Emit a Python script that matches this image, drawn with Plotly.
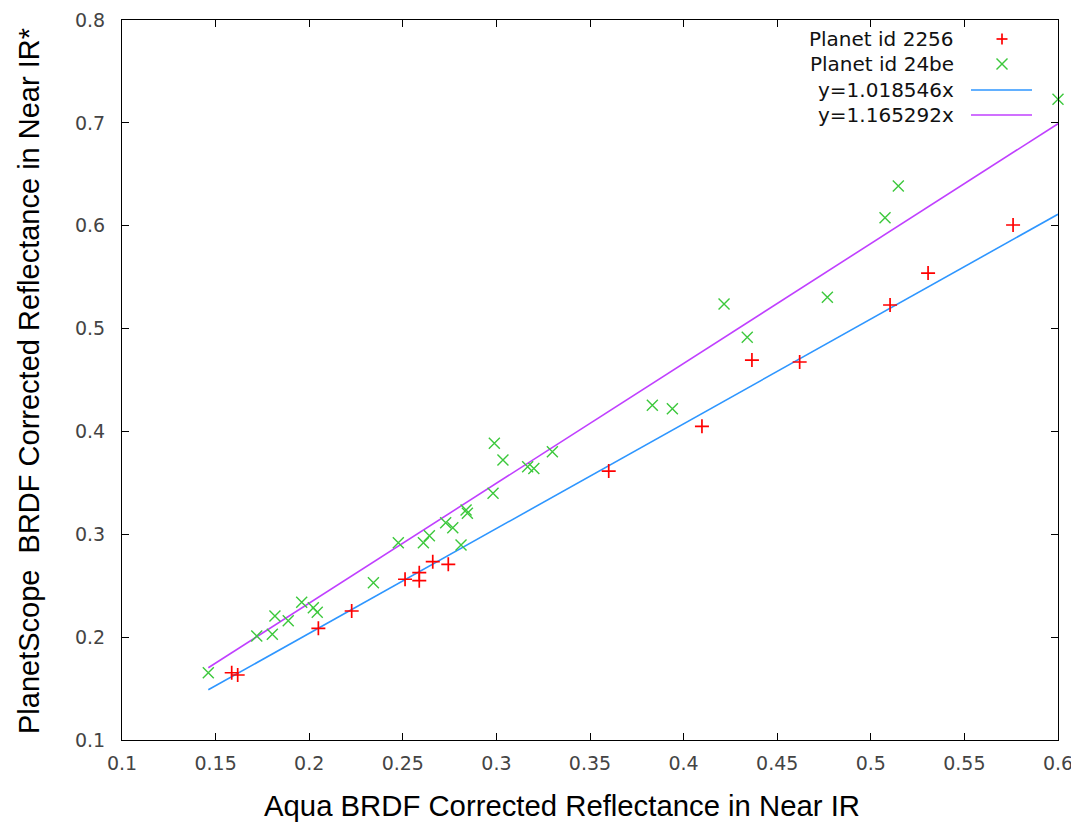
import plotly.graph_objects as go

# ---- data ----
red_name = "Planet id 2256"
red_x = [0.1586, 0.1618, 0.2049, 0.2227, 0.2512, 0.2588, 0.2588, 0.2660, 0.2743,
         0.3600, 0.4098, 0.4365, 0.4620, 0.5103, 0.5306, 0.5760]
red_y = [0.1654, 0.1632, 0.2086, 0.2254, 0.2563, 0.2627, 0.2549, 0.2734, 0.2708,
         0.3615, 0.4050, 0.4694, 0.4675, 0.5229, 0.5540, 0.6007]

green_name = "Planet id 24be"
green_x = [0.1461, 0.1720, 0.1803, 0.1817, 0.1888, 0.1960, 0.2022, 0.2043, 0.2343,
           0.2476, 0.2610, 0.2642, 0.2729, 0.2767, 0.2811, 0.2838, 0.2845, 0.2982,
           0.2989, 0.3035, 0.3167, 0.3200, 0.3299, 0.3833, 0.3940, 0.4216, 0.4340,
           0.4768, 0.5076, 0.5147, 0.6000]
green_y = [0.1654, 0.2011, 0.2028, 0.2205, 0.2160, 0.2339, 0.2286, 0.2241, 0.2529,
           0.2918, 0.2918, 0.2986, 0.3113, 0.3064, 0.2896, 0.3236, 0.3204, 0.3398,
           0.3884, 0.3722, 0.3657, 0.3640, 0.3803, 0.4254, 0.4220, 0.5239, 0.4915,
           0.5304, 0.6078, 0.6386, 0.7229]

fit_names = ["y=1.018546x", "y=1.165292x"]
fit_slopes = [1.018546, 1.165292]
fit_x = [0.1461, 0.6]

x_ticks = [0.1, 0.15, 0.2, 0.25, 0.3, 0.35, 0.4, 0.45, 0.5, 0.55, 0.6]
y_ticks = [0.1, 0.2, 0.3, 0.4, 0.5, 0.6, 0.7, 0.8]

x_title = "Aqua BRDF Corrected Reflectance in Near IR"
y_title = "PlanetScope\u00a0 BRDF Corrected Reflectance in Near IR*"

# ---- styles ----
RED = "#FF0000"
GREEN = "#3CC83C"
fit_colors = ["#2E96FF", "#C040FF"]
TICK_FONT = dict(family="DejaVu Sans", size=19, color="#444444")
TITLE_FAMILY = "Liberation Sans, Arial"

fig = go.Figure()

for name, k, col in zip(fit_names, fit_slopes, fit_colors):
    fig.add_trace(go.Scatter(
        x=fit_x, y=[k * v for v in fit_x], mode="lines", name=name,
        line=dict(color=col, width=1.6), showlegend=False, hoverinfo="skip"))

fig.add_trace(go.Scatter(
    x=red_x, y=red_y, mode="markers", name=red_name, cliponaxis=False,
    marker=dict(symbol="cross-thin", size=10, line=dict(color=RED, width=1.7)),
    showlegend=False))
fig.add_trace(go.Scatter(
    x=green_x, y=green_y, mode="markers", name=green_name, cliponaxis=False,
    marker=dict(symbol="x-thin", size=11, line=dict(color=GREEN, width=1.4)),
    showlegend=False))

# page has an 8px body margin: figure coords = page coords - 8
OFF = 8
W, H = 1079 - OFF, 825 - OFF
L, R, T, B = 122 - OFF, 1058 - OFF, 20 - OFF, 740 - OFF
def px(xp):  # xp in page pixels
    return (xp - OFF - L) / (R - L)
def py(yp):
    return (B - (yp - OFF)) / (B - T)

# gnuplot-style legend: text right-aligned, sample to the right
legend_rows = [red_name, green_name] + fit_names
row_y = [39, 64, 90, 115]
text_right = 956
shapes = []
annotations = []
for label, yy in zip(legend_rows, row_y):
    annotations.append(dict(
        x=px(text_right), y=py(yy), xref="paper", yref="paper",
        text=label, showarrow=False, xanchor="right", yanchor="middle",
        font=dict(family="DejaVu Sans", size=20, color="#111111")))

# axis titles
annotations.append(dict(
    x=px(561.5), y=py(806), xref="paper", yref="paper", text=x_title,
    showarrow=False, xanchor="center", yanchor="middle",
    font=dict(family=TITLE_FAMILY, size=29.3, color="#000000")))
annotations.append(dict(
    x=px(29), y=py(381), xref="paper", yref="paper", text=y_title,
    showarrow=False, xanchor="center", yanchor="middle", textangle=-90,
    font=dict(family=TITLE_FAMILY, size=29, color="#000000")))

cx = 1002
h = 5.5
# '+' sample
shapes.append(dict(type="line", xref="paper", yref="paper",
                   x0=px(cx - h), x1=px(cx + h), y0=py(row_y[0]), y1=py(row_y[0]),
                   line=dict(color=RED, width=1.7)))
shapes.append(dict(type="line", xref="paper", yref="paper",
                   x0=px(cx), x1=px(cx), y0=py(row_y[0] - h), y1=py(row_y[0] + h),
                   line=dict(color=RED, width=1.7)))
# 'x' sample
shapes.append(dict(type="line", xref="paper", yref="paper",
                   x0=px(cx - h), x1=px(cx + h), y0=py(row_y[1] - h), y1=py(row_y[1] + h),
                   line=dict(color=GREEN, width=1.4)))
shapes.append(dict(type="line", xref="paper", yref="paper",
                   x0=px(cx - h), x1=px(cx + h), y0=py(row_y[1] + h), y1=py(row_y[1] - h),
                   line=dict(color=GREEN, width=1.4)))
# line samples
for yy, col in zip(row_y[2:], fit_colors):
    shapes.append(dict(type="line", xref="paper", yref="paper",
                       x0=px(971), x1=px(1032), y0=py(yy), y1=py(yy),
                       line=dict(color=col, width=1.6)))

axis_common = dict(
    showgrid=False, zeroline=False, showline=True, linecolor="#000000", linewidth=1.2,
    mirror="ticks", ticks="inside", ticklen=7, tickwidth=1.2, tickcolor="#000000",
    tickfont=TICK_FONT, automargin=False,
)

fig.update_layout(
    width=W, height=H,
    margin=dict(l=L, r=W - R, t=T, b=H - B),
    paper_bgcolor="white", plot_bgcolor="white",
    showlegend=False,
    xaxis=dict(range=[0.1, 0.6], tickvals=x_ticks, ticktext=[f"{v:g}" for v in x_ticks],
               ticklabelstandoff=6, **axis_common),
    yaxis=dict(range=[0.1, 0.8], tickvals=y_ticks, ticktext=[f"{v:g}" for v in y_ticks],
               ticklabelstandoff=12, **axis_common),
    shapes=shapes,
    annotations=annotations,
)

fig.write_html("out.html")
